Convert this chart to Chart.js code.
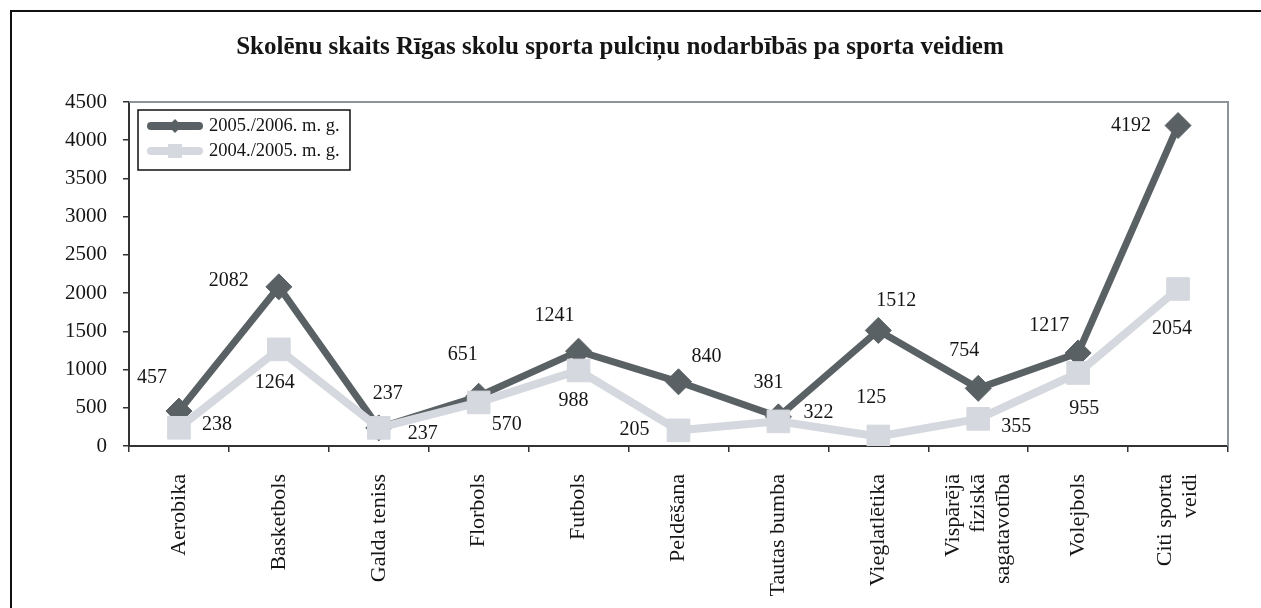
<!DOCTYPE html>
<html lang="lv">
<head>
<meta charset="utf-8">
<title>Skolēnu skaits Rīgas skolu sporta pulciņu nodarbībās</title>
<script src="https://cdn.jsdelivr.net/npm/chart.js@4.4.1/dist/chart.umd.min.js"></script>
<style>
  html, body { margin: 0; padding: 0; background: #fff; overflow: hidden; }
  #frame { position: absolute; left: 10px; top: 10px; width: 1300px; height: 700px;
           border-left: 2px solid #111; border-top: 2px solid #111; }
  #wrap { position: absolute; left: 0; top: 0; width: 1261px; height: 608px; }
</style>
</head>
<body>
<div id="frame"></div>
<div id="wrap"><canvas id="sportChart"></canvas></div>
<script>
// Dati
const titleText = 'Skolēnu skaits Rīgas skolu sporta pulciņu nodarbībās pa sporta veidiem';
const categories = [
    'Aerobika', 'Basketbols', 'Galda teniss', 'Florbols', 'Futbols', 'Peldēšana',
    'Tautas bumba', 'Vieglatlētika', ['Vispārējā', 'fiziskā', 'sagatavotība'],
    'Volejbols', ['Citi sporta', 'veidi']
];
const seriesNames = ['2005./2006. m. g.', '2004./2005. m. g.'];
const season0506 = [457, 2082, 237, 651, 1241, 840, 381, 1512, 754, 1217, 4192];
const season0405 = [238, 1264, 237, 570, 988, 205, 322, 125, 355, 955, 2054];
const yMin = 0, yMax = 4500, yStep = 500;

// Vērtību uzrakstu nobīdes (px) no punkta
const labelOffsets = [
    [[-27, -33], [-50, -6], [9, -34], [-16, -41], [-24, -35], [28, -25], [-10, -34], [18, -30], [-14, -38], [-29, -27], [-47, 0]],
    [[38, -3], [-4, 33], [44, 6], [28, 22], [-5, 30], [-44, -1], [40, -9], [-7, -39], [38, 8], [6, 36], [-6, 40]]
];

const SERIF = "'Liberation Serif', 'Times New Roman', serif";
const DARK = '#5a6164';
const LIGHT = '#d5d8de';
const TEXT = '#151515';

// Pelēkais rāmis augšā un labajā pusē
const plotFrame = {
    id: 'plotFrame',
    beforeDatasetsDraw(chart) {
        const { ctx, chartArea: a } = chart;
        ctx.save();
        ctx.strokeStyle = '#8d9498';
        ctx.lineWidth = 2;
        ctx.beginPath();
        ctx.moveTo(a.left, a.top);
        ctx.lineTo(a.right, a.top);
        ctx.lineTo(a.right, a.bottom);
        ctx.stroke();
        ctx.restore();
    }
};

// Vairākrindu uzrakstus uz x ass centrē ap iedaļu
const centerMultiLine = {
    id: 'centerMultiLine',
    beforeDraw(chart) {
        const scale = chart.scales.x;
        scale.getLabelItems(chart.chartArea).forEach(item => {
            if (Array.isArray(item.label) && !item._centred) {
                item.options.translation[0] -= (item.label.length - 1) * item.font.lineHeight / 2;
                item._centred = true;
            }
        });
    }
};

// Vērtības pie punktiem
const pointLabels = {
    id: 'pointLabels',
    afterDatasetsDraw(chart) {
        const ctx = chart.ctx;
        ctx.save();
        ctx.font = '20px ' + SERIF;
        ctx.fillStyle = TEXT;
        ctx.textAlign = 'center';
        ctx.textBaseline = 'middle';
        chart.data.datasets.forEach((ds, di) => {
            const meta = chart.getDatasetMeta(di);
            meta.data.forEach((pt, i) => {
                const [dx, dy] = labelOffsets[di][i];
                ctx.fillText(String(ds.data[i]), pt.x + dx, pt.y + dy);
            });
        });
        ctx.restore();
    }
};

// Leģenda rāmītī diagrammas laukumā
const boxLegend = {
    id: 'boxLegend',
    afterDraw(chart) {
        const { ctx, chartArea: a } = chart;
        const x0 = a.left + 9, y0 = a.top + 8, w = 212, h = 60;
        ctx.save();
        ctx.fillStyle = '#fff';
        ctx.fillRect(x0, y0, w, h);
        ctx.strokeStyle = '#111';
        ctx.lineWidth = 1.5;
        ctx.strokeRect(x0, y0, w, h);

        const rows = [
            { label: seriesNames[0], color: DARK, marker: 'diamond', y: y0 + 16 },
            { label: seriesNames[1], color: LIGHT, marker: 'square', y: y0 + 41 }
        ];
        rows.forEach(r => {
            ctx.strokeStyle = r.color;
            ctx.fillStyle = r.color;
            ctx.lineWidth = 8;
            ctx.lineCap = 'round';
            ctx.beginPath();
            ctx.moveTo(x0 + 13, r.y);
            ctx.lineTo(x0 + 61, r.y);
            ctx.stroke();
            const mx = x0 + 37;
            ctx.beginPath();
            if (r.marker === 'diamond') {
                ctx.moveTo(mx - 7, r.y);
                ctx.lineTo(mx, r.y - 7);
                ctx.lineTo(mx + 7, r.y);
                ctx.lineTo(mx, r.y + 7);
                ctx.closePath();
                ctx.fill();
            } else {
                ctx.fillRect(mx - 7, r.y - 7, 14, 14);
            }
            ctx.fillStyle = TEXT;
            ctx.font = '18.5px ' + SERIF;
            ctx.textAlign = 'left';
            ctx.textBaseline = 'middle';
            ctx.fillText(r.label, x0 + 71, r.y);
        });
        ctx.restore();
    }
};

document.addEventListener('DOMContentLoaded', () => {
    const ctx = document.getElementById('sportChart');
    new Chart(ctx.getContext('2d'), {
        type: 'line',
        data: {
            labels: categories,
            datasets: [
                {
                    label: seriesNames[0],
                    data: season0506,
                    borderColor: DARK,
                    backgroundColor: DARK,
                    borderWidth: 7,
                    pointStyle: 'rectRot',
                    pointRadius: 13,
                    pointBorderWidth: 1,
                    tension: 0,
                    order: 1
                },
                {
                    label: seriesNames[1],
                    data: season0405,
                    borderColor: LIGHT,
                    backgroundColor: LIGHT,
                    borderWidth: 8,
                    pointStyle: 'rect',
                    pointRadius: 16,
                    pointBorderWidth: 1,
                    tension: 0,
                    order: 0
                }
            ]
        },
        options: {
            responsive: true,
            maintainAspectRatio: false,
            animation: false,
            events: [],
            layout: { padding: { left: 12, right: 33, top: 0, bottom: 0 } },
            scales: {
                x: {
                    offset: true,
                    grid: { display: true, drawOnChartArea: false, offset: true, tickLength: 6, color: '#333', lineWidth: 1.5 },
                    border: { color: '#333', width: 2 },
                    ticks: {
                        autoSkip: false,
                        minRotation: 90,
                        maxRotation: 90,
                        padding: 22,
                        color: TEXT,
                        font: { family: SERIF, size: 22, lineHeight: 1.15 }
                    },
                    afterFit: (s) => { s.height = 162; }
                },
                y: {
                    min: yMin,
                    max: yMax,
                    grid: { display: true, drawOnChartArea: false, tickLength: 6, color: '#333', lineWidth: 1.5 },
                    border: { color: '#333', width: 2 },
                    ticks: {
                        stepSize: yStep,
                        padding: 16,
                        color: TEXT,
                        font: { family: SERIF, size: 21 },
                        callback: (value) => String(value)
                    },
                    afterFit: (s) => { s.width = 117; }
                }
            },
            plugins: {
                legend: { display: false },
                tooltip: { enabled: false },
                title: {
                    display: true,
                    text: titleText,
                    color: TEXT,
                    font: { family: SERIF, size: 25, weight: 'bold', lineHeight: 1.2 },
                    padding: { top: 33, bottom: 39 }
                }
            }
        },
        plugins: [plotFrame, centerMultiLine, pointLabels, boxLegend]
    });
});
</script>
</body>
</html>
